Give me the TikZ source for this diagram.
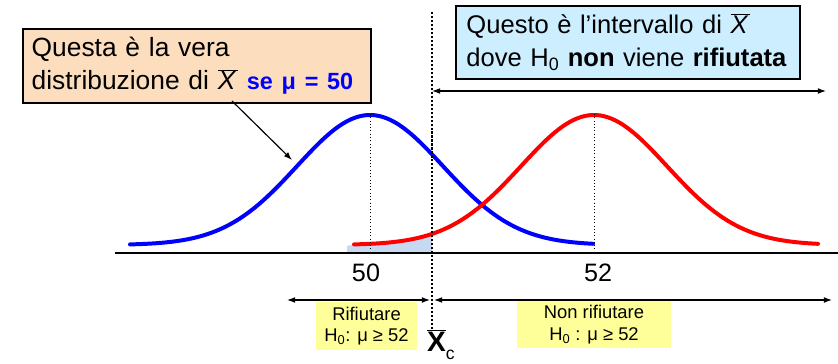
\documentclass[tikz,border=0pt]{standalone}
\usepackage{fontspec}
\setmainfont{Liberation Sans}
\usepackage{tikz}
\usetikzlibrary{arrows.meta, positioning, calc}
\definecolor{csblue}{HTML}{0000FF}
\definecolor{csred}{HTML}{FF0000}
\definecolor{cspeach}{HTML}{FCDDBE}
\definecolor{cssky}{HTML}{CCEEFF}
\definecolor{csyellow}{HTML}{FFFF99}
\definecolor{csshade}{HTML}{C6D9F1}
\newcommand{\xbarit}{$\overline{\hbox{\itshape X\kern0.1em}}$}

\begin{document}
\begin{tikzpicture}[x=0.3mm, y=-0.3mm,
    curve/.style={line width=3.4pt, line cap=round},
    guide/.style={black, line width=0.8pt, dotted},
    note/.style={draw=black, line width=1.6pt, align=left, inner ysep=0pt},
    region/.style={fill=csyellow, align=center, inner sep=0pt,
                   font=\fontsize{15.7}{18.5}\selectfont},
    span/.style={black, line width=0.9pt, {Latex[length=7pt,width=5pt]}-{Latex[length=7pt,width=5pt]}}]
\useasboundingbox (0,0) rectangle (838,363);
% Shaded tail
\fill[csshade] (347,253) -- (347,246)
    -- plot[domain=354:432, samples=40] (\x, {245-130*exp(-0.5*((\x-594)/73)^2)})
    -- (432,253) -- cycle;
% Axis
\draw[black, line width=1.7pt] (115,253) -- (838,253);
% Curves
\draw[curve, csblue] plot[domain=130:593, samples=120, smooth]
    (\x, {245-130*exp(-0.5*((\x-370)/73)^2)});
\draw[curve, csred] plot[domain=354:818, samples=120, smooth]
    (\x, {245-130*exp(-0.5*((\x-594)/73)^2)});
% Means
\draw[guide] (370,114) -- (370,253);
\draw[guide] (594,114) -- (594,253);
\node[font=\fontsize{21.5}{24}\selectfont] (m50) at (366,273) {50};
\node[font=\fontsize{21.5}{24}\selectfont] (m52) at (598,273) {52};
% Critical value
\draw[black, line width=2pt, dash pattern=on 1.8pt off 1.6pt] (432,12) -- (432,330);
\node[font=\fontsize{24}{26}\selectfont\bfseries, inner sep=0pt, anchor=west] (xc) at (427,345)
    {$\overline{\hbox{X}}$\raisebox{-0.55ex}{\fontsize{15}{16}\selectfont\mdseries c}};
% Notes
\node[note, fill=cspeach, anchor=north west, text width=282pt,
      minimum height=63pt, inner xsep=7.5pt, font=\fontsize{22.5}{28}\selectfont] (truth) at (22,28)
    {Questa è la vera\\\mbox{distribuzione di \xbarit\ \textcolor{csblue}{\fontsize{20}{28}\selectfont\bfseries se μ = 50}}};
\node[note, fill=cssky, anchor=north west, text width=276pt,
      minimum height=62pt, inner xsep=9pt, font=\fontsize{21.8}{28}\selectfont] (keep) at (455,5)
    {Questo è l’intervallo di \xbarit\\dove H\textsubscript{0} \textbf{non} viene \textbf{rifiutata}};
\coordinate (tip) at (292,160);
\draw[black, line width=1pt, -{Latex[length=7pt,width=5pt]}] (232,101) -- (tip);
% Ranges
\coordinate (top l) at (432,91);
\coordinate (top r) at (826,91);
\draw[span] (top l) -- (top r);
\coordinate (rej l) at (287,300);
\coordinate (rej r) at (430,300);
\coordinate (acc l) at (434,300);
\coordinate (acc r) at (832,300);
\draw[span] (rej l) -- (rej r);
\draw[span] (acc l) -- (acc r);
\node[region, minimum width=86pt, minimum height=41pt] (reject) at (366.5,326)
    {Rifiutare\\H\textsubscript{0}: μ ≥ 52};
\node[region, minimum width=131pt, minimum height=40pt] (accept) at (594,324.5)
    {Non rifiutare\\H\textsubscript{0} : μ ≥ 52};
\end{tikzpicture}
\end{document}
